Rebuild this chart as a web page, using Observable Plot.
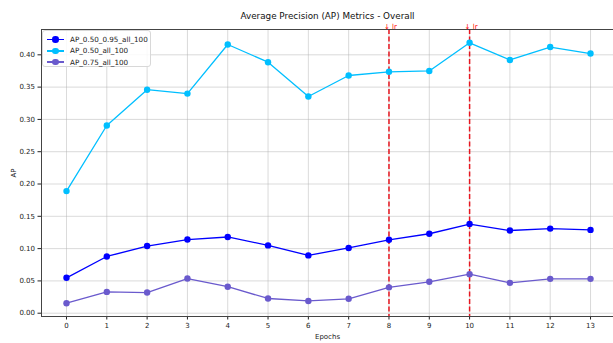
<!DOCTYPE html>
<html>
<head>
<meta charset="utf-8">
<script src="https://cdn.jsdelivr.net/npm/d3@7"></script>
<script src="https://cdn.jsdelivr.net/npm/@observablehq/plot@0.6"></script>
<style>
  body { margin: 0; background: #fff; font-family: "DejaVu Sans", sans-serif; }
  #wrap { position: relative; width: 613px; height: 343px; }
  #legend { position: absolute; left: 42px; top: 30px; width: 109px; height: 37px; padding: 3px 0 0 4px;
    background: rgba(255,255,255,0.85); border: 1px solid #d8d8d8; border-radius: 3px;
    font-size: 7.2px; color: #222; box-sizing: border-box; }
  .item { display: flex; align-items: center; height: 11.3px; white-space: nowrap; }
  .sw { position: relative; flex: none; width: 17px; height: 10px; margin-right: 6px; }
  .sw .ln { position: absolute; left: 0; right: 0; top: 4.25px; height: 1.5px; }
  .sw .dt { position: absolute; left: 5px; top: 1.75px; width: 6.5px; height: 6.5px; border-radius: 50%; }
</style>
</head>
<body>
<div id="wrap"><div id="chart"></div><div id="legend"></div></div>
<script>
const epochs = [0,1,2,3,4,5,6,7,8,9,10,11,12,13];
const seriesNames = ["AP_0.50_0.95_all_100", "AP_0.50_all_100", "AP_0.75_all_100"];
const seriesColors = ["#0000ff", "#00bfff", "#6a5acd"];
const ap50_95 = [0.0548, 0.0878, 0.104, 0.114, 0.118, 0.105, 0.0895, 0.101, 0.1136, 0.123, 0.138, 0.128, 0.131, 0.129];
const ap50 = [0.189, 0.2906, 0.346, 0.340, 0.416, 0.3886, 0.3355, 0.368, 0.3737, 0.375, 0.4186, 0.392, 0.412, 0.402];
const ap75 = [0.0155, 0.033, 0.032, 0.0537, 0.041, 0.0228, 0.019, 0.0223, 0.040, 0.0486, 0.0604, 0.047, 0.0532, 0.0532];
const lrEpochs = [8, 10];
const yTicks = [0, 0.05, 0.10, 0.15, 0.20, 0.25, 0.30, 0.35, 0.40];
const title = "Average Precision (AP) Metrics - Overall";

const allSeries = [ap50_95, ap50, ap75];
const data = allSeries.flatMap((vals, i) => vals.map((v, j) => ({epoch: epochs[j], ap: v, series: seriesNames[i]})));

const chart = Plot.plot({
  width: 613,
  height: 343,
  marginLeft: 41,
  marginRight: 0,
  marginTop: 29,
  marginBottom: 27,
  style: {fontFamily: "DejaVu Sans, sans-serif", fontSize: "7px", color: "#222", background: "#fff"},
  x: {domain: [-0.62, 13.57]},
  y: {domain: [-0.0051, 0.4392]},
  color: {domain: seriesNames, range: seriesColors},
  marks: [
    Plot.gridX(epochs, {stroke: "#b0b0b0", strokeOpacity: 0.6, strokeWidth: 0.8}),
    Plot.gridY(yTicks, {stroke: "#b0b0b0", strokeOpacity: 0.6, strokeWidth: 0.8}),
    Plot.axisX(epochs, {tickSize: 3.5, tickPadding: 3, fontSize: 7, label: "Epochs", labelAnchor: "center", labelArrow: "none", labelOffset: 22}),
    Plot.axisY(yTicks, {tickSize: 3.5, tickPadding: 3, fontSize: 7, tickFormat: d3.format(".2f"), label: "AP", labelAnchor: "center", labelArrow: "none", labelOffset: 30}),
    Plot.ruleX(lrEpochs, {stroke: "#e8000b", strokeWidth: 1.5, strokeDasharray: "5,2.5", strokeOpacity: 0.9}),
    Plot.line(data, {x: "epoch", y: "ap", z: "series", stroke: "series", strokeWidth: 1.3}),
    Plot.dot(data, {x: "epoch", y: "ap", fill: "series", r: 3.2}),
    Plot.text(lrEpochs, {x: d => d, frameAnchor: "top", dy: -5, dx: -5, text: () => "↓ lr", fill: "#ff0000", fontSize: 7, textAnchor: "start"}),
    Plot.text([title], {frameAnchor: "top", dy: -17, fontSize: 8.8, fill: "#111"}),
    Plot.frame({anchor: "left", stroke: "#444"}),
    Plot.frame({anchor: "top", stroke: "#444"}),
    Plot.frame({anchor: "bottom", stroke: "#444"})
  ]
});
document.getElementById("chart").appendChild(chart);

const legend = document.getElementById("legend");
seriesNames.forEach((name, i) => {
  const item = document.createElement("div");
  item.className = "item";
  item.innerHTML = `<div class="sw"><div class="ln" style="background:${seriesColors[i]}"></div><div class="dt" style="background:${seriesColors[i]}"></div></div><span>${name}</span>`;
  legend.appendChild(item);
});
</script>
</body>
</html>
